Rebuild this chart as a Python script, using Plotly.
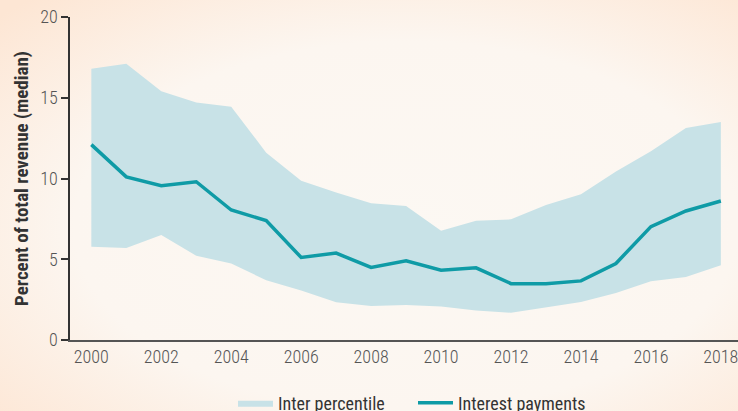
import plotly.graph_objects as go
import base64

years = list(range(2000, 2019))
upper = [16.8, 17.1, 15.4, 14.7, 14.45, 11.6, 9.86, 9.13, 8.47, 8.30, 6.77, 7.39, 7.47, 8.36, 9.03, 10.43, 11.68, 13.13, 13.5]
lower = [5.77, 5.69, 6.5, 5.21, 4.74, 3.7, 3.06, 2.33, 2.10, 2.17, 2.08, 1.83, 1.69, 2.04, 2.35, 2.91, 3.64, 3.9, 4.63]
interest = [12.1, 10.1, 9.55, 9.8, 8.05, 7.39, 5.11, 5.38, 4.49, 4.90, 4.32, 4.47, 3.49, 3.49, 3.66, 4.74, 7.02, 7.99, 8.61]
y_ticks = [0, 5, 10, 15, 20]
x_ticks = [2000, 2002, 2004, 2006, 2008, 2010, 2012, 2014, 2016, 2018]

FONT = "Roboto Condensed, Open Sans Condensed, sans-serif"
BAND = "#c8e2e7"
LINE = "#0f9ba6"

svg = (
    '<svg xmlns="http://www.w3.org/2000/svg" width="738" height="411">'
    '<defs><radialGradient id="g" cx="0.55" cy="0.55" r="0.75">'
    '<stop offset="0" stop-color="#fcf8f3"/>'
    '<stop offset="0.6" stop-color="#fcf6f0"/>'
    '<stop offset="1" stop-color="#fde6d4"/>'
    '</radialGradient></defs>'
    '<rect width="738" height="411" fill="url(#g)"/></svg>'
)
bg_uri = "data:image/svg+xml;base64," + base64.b64encode(svg.encode()).decode()

fig = go.Figure()
fig.add_trace(go.Scatter(x=years, y=lower, mode="lines", line=dict(width=0, color=BAND),
                         showlegend=False, hoverinfo="skip"))
fig.add_trace(go.Scatter(x=years, y=upper, mode="lines", line=dict(width=0, color=BAND),
                         fill="tonexty", fillcolor=BAND, name="Inter percentile", legendrank=1))
fig.add_trace(go.Scatter(x=years, y=interest, mode="lines", line=dict(width=3.5, color=LINE),
                         name="Interest payments", legendrank=2))

fig.update_layout(
    width=738, height=411,
    margin=dict(l=70, r=0, t=17, b=71, autoexpand=False),
    paper_bgcolor="#fcf6f0",
    plot_bgcolor="rgba(0,0,0,0)",
    font=dict(family=FONT, size=18, color="#555"),
    images=[dict(source=bg_uri, xref="paper", yref="paper", x=-70/668, y=1 + 17/323,
                 sizex=738/668, sizey=411/323, sizing="stretch", layer="below",
                 xanchor="left", yanchor="top")],
    xaxis=dict(range=[1999.39, 2018.49], tickvals=x_ticks, showgrid=False, zeroline=False,
               showline=True, linecolor="#555", linewidth=1.5, ticks="", automargin=False,
               ticklabeloverflow="allow",
               tickfont=dict(family=FONT, size=18, color="#555", weight=300)),
    yaxis=dict(range=[0, 20], tickvals=y_ticks, showgrid=False, zeroline=False,
               showline=True, linecolor="#333", linewidth=1.5, ticks="outside", ticklen=7,
               tickcolor="#333", tickwidth=1.5, automargin=False,
               tickfont=dict(family=FONT, size=18, color="#555", weight=300),
               title=dict(text="Percent of total revenue (median)",
                          font=dict(family=FONT, size=19, color="#333", weight="bold"), standoff=6)),
    legend=dict(orientation="h", x=(233 - 70) / 668, xanchor="left", xref="paper",
                y=-0.195, yanchor="middle", yref="paper",
                font=dict(family=FONT, size=18, color="#333"), bgcolor="rgba(0,0,0,0)",
                itemwidth=35, traceorder="normal", entrywidth=130),
)
fig.write_html("out.html", config={"displayModeBar": False},
               post_script="document.body.style.margin='0';document.body.style.overflow='hidden';")
